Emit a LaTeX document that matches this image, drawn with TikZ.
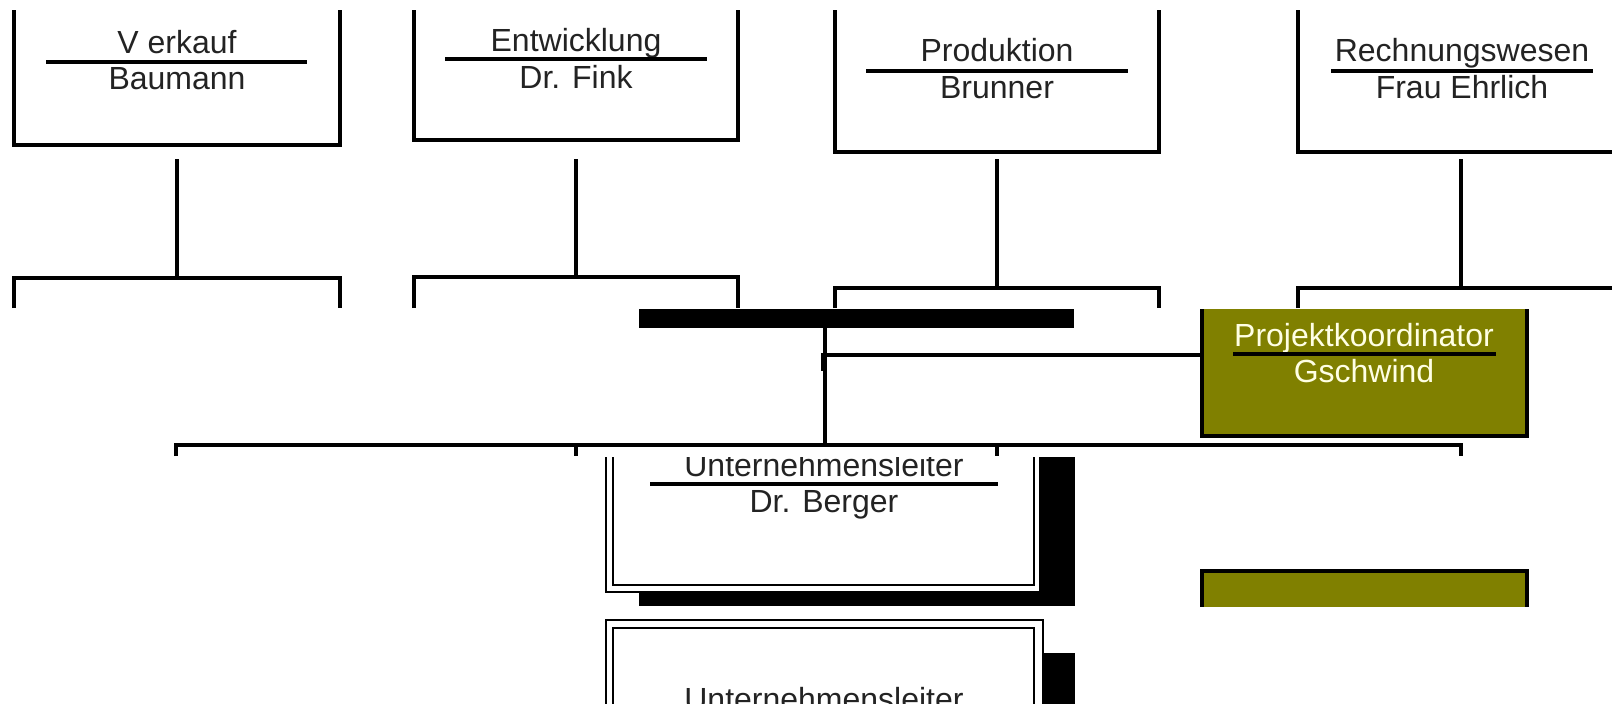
\documentclass[tikz,border=0pt]{standalone}
\usepackage{fontspec}
\setmainfont{Liberation Sans}
\definecolor{olivebox}{RGB}{128,128,0}
\definecolor{cream}{RGB}{255,255,228}
\definecolor{ink}{RGB}{35,35,35}
\begin{document}
\begin{tikzpicture}[x=0.5pt,y=-0.5pt,
  frame/.style={line width=1.9pt, draw=black, line join=miter},
  link/.style={line width=1.6pt, draw=black},
  rulel/.style={line width=1.8pt, draw=black},
  thin/.style={line width=1.1pt, draw=black},
  lbl/.style={font=\fontsize{16}{19}\selectfont, text=ink, inner sep=0pt, anchor=base},
  olbl/.style={lbl, text=cream}]
\useasboundingbox (0,0) rectangle (1612,703);
\clip (0,0) rectangle (1612,703);

% ---------- top department boxes ----------
% Verkauf
\draw[frame] (14,10) -- (14,145) -- (340,145) -- (340,10);
\node[lbl] (vk) at (177,53) {V erkauf};
\draw[rulel] (46,62) -- (307,62);
\node[lbl] (bm) at (177,89) {Baumann};
% Entwicklung
\draw[frame] (414,10) -- (414,140) -- (738,140) -- (738,10);
\node[lbl] (ew) at (576,51) {Entwicklung};
\draw[rulel] (445,59) -- (707,59);
\node[lbl] (fk) at (576,88) {Dr. Fink};
% Produktion
\draw[frame] (835,10) -- (835,152) -- (1159,152) -- (1159,10);
\node[lbl] (pd) at (997,61) {Produktion};
\draw[rulel] (866,71) -- (1128,71);
\node[lbl] (br) at (997,98) {Brunner};
% Rechnungswesen
\draw[frame] (1298,10) -- (1298,152) -- (1640,152);
\node[lbl] (rw) at (1462,61) {Rechnungswesen};
\draw[rulel] (1331,71) -- (1593,71);
\node[lbl] (eh) at (1462,98) {Frau Ehrlich};

% ---------- connectors to lower boxes ----------
\coordinate (c1a) at (177,159); \coordinate (c1b) at (177,278);
\coordinate (c2a) at (576,159); \coordinate (c2b) at (576,277);
\coordinate (c3a) at (997,159); \coordinate (c3b) at (997,288);
\coordinate (c4a) at (1461,159); \coordinate (c4b) at (1461,288);
\draw[link] (c1a) -- (c1b);
\draw[link] (c2a) -- (c2b);
\draw[link] (c3a) -- (c3b);
\draw[link] (c4a) -- (c4b);

% lower boxes (cut off)
\draw[frame] (14,308) -- (14,278) -- (340,278) -- (340,308);
\draw[frame] (414,308) -- (414,277) -- (738,277) -- (738,308);
\draw[frame] (835,308) -- (835,288) -- (1159,288) -- (1159,308);
\draw[frame] (1298,308) -- (1298,288) -- (1640,288);

% ---------- middle band ----------
\fill[black] (639,309) rectangle (1074,328);
\coordinate (vtop) at (825,328);
\coordinate (vjoin) at (825,355);
\coordinate (vbot) at (825,445);
\draw[link] (vtop) -- (vbot);
\fill[black] (821,353) rectangle (825,371);

% Projektkoordinator
\fill[olivebox] (1202,309) rectangle (1527,436);
\draw[frame] (1202,309) -- (1202,436) -- (1527,436) -- (1527,309);
\coordinate (pkL) at (1202,355);
\draw[link] (vjoin) -- (pkL);
\node[olbl] (pk) at (1364,346) {Projektkoordinator};
\draw[rulel] (1233,354) -- (1496,354);
\node[olbl] (gs) at (1364,382) {Gschwind};

% bus line
\coordinate (b1) at (176,456); \coordinate (b2) at (576,456);
\coordinate (b3) at (997,456); \coordinate (b4) at (1461,456);
\draw[link] (b1) -- (176,445) -- (1461,445) -- (b4);
\draw[link] (576,445) -- (b2);
\draw[link] (997,445) -- (b3);

% ---------- Unternehmensleiter (first, top cut) ----------
\begin{scope}
\clip (0,457) rectangle (1612,606);
\fill[black] (1040,440) rectangle (1075,606);
\fill[black] (639,592) rectangle (1075,606);
\filldraw[thin, fill=white] (606,440) rectangle (1040,592);
\draw[thin] (613,440) rectangle (1034,585);
\node[lbl] (ul1) at (824,476) {Unternehmensleiter};
\draw[rulel] (650,484) -- (998,484);
\node[lbl] (db) at (824,512) {Dr. Berger};
\end{scope}

% second olive box (cut)
\begin{scope}
\clip (0,560) rectangle (1612,606);
\fill[olivebox] (1202,571) rectangle (1527,620);
\draw[frame] (1202,620) -- (1202,571) -- (1527,571) -- (1527,620);
\end{scope}

% ---------- Unternehmensleiter (second, bottom cut) ----------
\fill[black] (1043,653) rectangle (1075,720);
\filldraw[thin, fill=white] (606,620) rectangle (1043,730);
\draw[thin] (613,628) rectangle (1034,730);
\node[lbl] (ul2) at (824,710) {Unternehmensleiter};
\end{tikzpicture}
\end{document}
